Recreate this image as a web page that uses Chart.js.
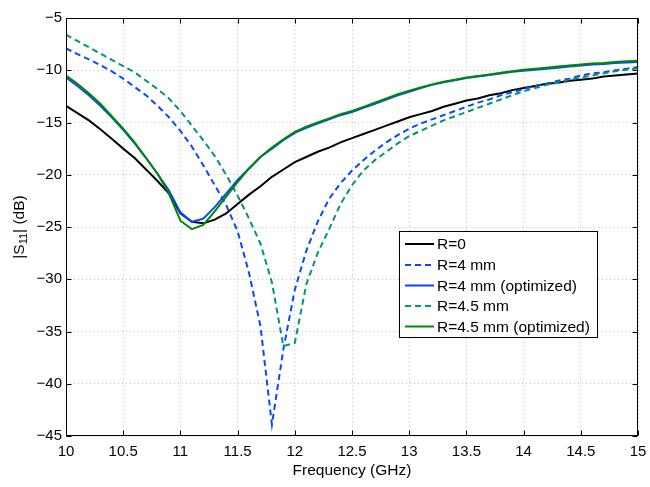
<!DOCTYPE html>
<html lang="en">
<head>
<meta charset="UTF-8">
<title>|S11| vs frequency</title>
<script src="https://cdn.jsdelivr.net/npm/chart.js"></script>
<style>
  body { margin: 0; background: #fff; }
  canvas { display: block; }
</style>
</head>
<body>
<canvas id="s11Chart" width="650" height="487"></canvas>
<script>
// frequency samples (GHz)
const freq = [10.0, 10.1, 10.2, 10.3, 10.4, 10.5, 10.6, 10.7, 10.8, 10.9,
              11.0, 11.1, 11.2, 11.3, 11.4, 11.5, 11.6, 11.7, 11.8, 11.9,
              12.0, 12.1, 12.2, 12.3, 12.4, 12.5, 12.6, 12.7, 12.8, 12.9,
              13.0, 13.1, 13.2, 13.3, 13.4, 13.5, 13.6, 13.7, 13.8, 13.9,
              14.0, 14.1, 14.2, 14.3, 14.4, 14.5, 14.6, 14.7, 14.8, 14.9, 15.0];

// |S11| in dB
const r0 = [-13.4, -14.1, -14.8, -15.65, -16.55, -17.5, -18.4, -19.5, -20.6, -21.8,
            -23.7, -24.5, -24.65, -24.3, -23.7, -22.8, -21.9, -21.1, -20.2, -19.5,
            -18.8, -18.3, -17.8, -17.4, -16.9, -16.5, -16.1, -15.7, -15.3, -14.9,
            -14.5, -14.2, -13.9, -13.5, -13.2, -12.9, -12.7, -12.4, -12.2, -11.9,
            -11.7, -11.5, -11.3, -11.2, -11.0, -10.9, -10.8, -10.6, -10.5, -10.4, -10.3];
const r4 = [-7.9, -8.45, -8.95, -9.5, -10.1, -10.8, -11.6, -12.4, -13.4, -14.5,
            -15.8, -17.3, -19.1, -21.0, -22.9, -25.4, -29.4, -34.5, -43.9, -36.7,
            -31.0, -27.3, -24.5, -22.3, -20.8, -19.6, -18.6, -17.7, -16.9, -16.2,
            -15.6, -15.1, -14.7, -14.3, -13.9, -13.5, -13.1, -12.8, -12.4, -12.1,
            -11.8, -11.5, -11.3, -11.0, -10.8, -10.5, -10.3, -10.2, -10.0, -9.85, -9.7];
const r4opt = [-10.7, -11.5, -12.4, -13.4, -14.5, -15.7, -17.0, -18.4, -19.9, -21.5,
               -23.6, -24.5, -24.2, -23.1, -21.8, -20.5, -19.4, -18.3, -17.5, -16.7,
               -16.0, -15.5, -15.1, -14.7, -14.3, -14.0, -13.6, -13.2, -12.8, -12.4,
               -12.05, -11.7, -11.4, -11.15, -10.95, -10.75, -10.6, -10.45, -10.3, -10.15,
               -10.05, -9.95, -9.85, -9.75, -9.65, -9.55, -9.45, -9.4, -9.3, -9.25, -9.2];
const r45 = [-6.6, -7.2, -7.8, -8.4, -9.0, -9.6, -10.2, -11.0, -11.8, -12.7,
             -13.9, -15.3, -16.7, -18.2, -20.0, -22.0, -24.2, -26.6, -30.3, -36.4,
             -36.1, -30.5, -27.5, -25.2, -22.8, -21.0, -19.6, -18.6, -17.8, -17.0,
             -16.3, -15.8, -15.3, -14.8, -14.4, -14.0, -13.6, -13.2, -12.8, -12.4,
             -12.0, -11.7, -11.4, -11.2, -10.9, -10.7, -10.5, -10.3, -10.1, -9.95, -9.8];
const r45opt = [-10.5, -11.3, -12.2, -13.2, -14.4, -15.6, -16.9, -18.4, -19.9, -21.8,
                -24.4, -25.2, -24.8, -23.5, -22.1, -20.7, -19.4, -18.3, -17.4, -16.6,
                -15.9, -15.4, -15.0, -14.6, -14.2, -13.9, -13.5, -13.1, -12.7, -12.3,
                -11.95, -11.65, -11.35, -11.1, -10.9, -10.7, -10.55, -10.4, -10.25, -10.1,
                -9.95, -9.85, -9.75, -9.65, -9.55, -9.45, -9.35, -9.3, -9.2, -9.15, -9.1];

const seriesNames = ['R=0', 'R=4 mm', 'R=4 mm (optimized)', 'R=4.5 mm', 'R=4.5 mm (optimized)'];
const seriesColors = ['#000000', '#0a47ff', '#0a47ff', '#009670', '#008a00'];
const seriesDashed = [false, true, false, true, false];
const seriesValues = [r0, r4, r4opt, r45, r45opt];

const FONT = '"Liberation Sans", Arial, Helvetica, sans-serif';

const datasets = seriesValues.map((vals, i) => ({
    label: seriesNames[i],
    data: vals.map((v, k) => ({ x: freq[k], y: v })),
    borderColor: seriesColors[i],
    borderWidth: 2,
    borderDash: seriesDashed[i] ? [6, 4] : [],
    pointRadius: 0,
    tension: 0,
    fill: false,
    order: seriesValues.length - i   // later series drawn on top, like matlab
}));

// axis box, inward ticks, axis titles and the legend
const decorations = {
    id: 'decorations',
    afterDraw(chart) {
        const { ctx, chartArea: a, scales } = chart;
        ctx.save();
        ctx.strokeStyle = '#000';
        ctx.lineWidth = 1;
        ctx.setLineDash([]);
        const L = Math.round(a.left) + 0.5, R = Math.round(a.right) - 0.5;
        const T = Math.round(a.top) + 0.5, B = Math.round(a.bottom) - 0.5;
        ctx.strokeRect(L, T, R - L, B - T);

        const tl = 5;
        ctx.beginPath();
        scales.x.ticks.forEach(t => {
            const px = Math.round(scales.x.getPixelForValue(t.value)) + 0.5;
            ctx.moveTo(px, B); ctx.lineTo(px, B - tl);
            ctx.moveTo(px, T); ctx.lineTo(px, T + tl);
        });
        scales.y.ticks.forEach(t => {
            const py = Math.round(scales.y.getPixelForValue(t.value)) + 0.5;
            ctx.moveTo(L, py); ctx.lineTo(L + tl, py);
            ctx.moveTo(R, py); ctx.lineTo(R - tl, py);
        });
        ctx.stroke();

        // x title
        ctx.fillStyle = '#000';
        ctx.font = '15.5px ' + FONT;
        ctx.textAlign = 'center';
        ctx.textBaseline = 'middle';
        ctx.fillText('Frequency (GHz)', (a.left + a.right) / 2, 471);

        // y title with subscript
        ctx.save();
        ctx.translate(20, (a.top + a.bottom) / 2);
        ctx.rotate(-Math.PI / 2);
        ctx.textAlign = 'left';
        ctx.textBaseline = 'middle';
        const p1 = '|S', p2 = '11', p3 = '| (dB)';
        ctx.font = '15.5px ' + FONT;
        const w1 = ctx.measureText(p1).width, w3 = ctx.measureText(p3).width;
        ctx.font = '11px ' + FONT;
        const w2 = ctx.measureText(p2).width;
        let x0 = -(w1 + w2 + w3) / 2;
        ctx.font = '15.5px ' + FONT;
        ctx.fillText(p1, x0, 0);
        ctx.font = '11px ' + FONT;
        ctx.fillText(p2, x0 + w1, 4);
        ctx.font = '15.5px ' + FONT;
        ctx.fillText(p3, x0 + w1 + w2, 0);
        ctx.restore();

        // legend
        const bx = 399.5, by = 231.5, bw = 198, bh = 106;
        ctx.fillStyle = '#fff';
        ctx.fillRect(bx, by, bw, bh);
        ctx.strokeStyle = '#000';
        ctx.lineWidth = 1;
        ctx.strokeRect(bx, by, bw, bh);
        const rows = [244, 265, 285.5, 306, 326.5];
        ctx.font = '15.5px ' + FONT;
        ctx.textAlign = 'left';
        ctx.textBaseline = 'middle';
        seriesNames.forEach((name, i) => {
            ctx.strokeStyle = seriesColors[i];
            ctx.lineWidth = 2;
            ctx.setLineDash(seriesDashed[i] ? [6, 4] : []);
            ctx.beginPath();
            ctx.moveTo(405, rows[i]);
            ctx.lineTo(434, rows[i]);
            ctx.stroke();
            ctx.fillStyle = '#000';
            ctx.fillText(name, 437, rows[i] + 1);
        });
        ctx.restore();
    }
};

const ctx = document.getElementById('s11Chart').getContext('2d');
new Chart(ctx, {
    type: 'line',
    data: { datasets: datasets },
    options: {
        responsive: false,
        animation: false,
        layout: { padding: { left: 0, right: 12, top: 18, bottom: 0 } },
        plugins: { legend: { display: false }, tooltip: { enabled: false } },
        scales: {
            x: {
                type: 'linear',
                min: 10, max: 15,
                afterFit: s => { s.height = 51; s.paddingLeft = 0; s.paddingRight = 0; },
                ticks: {
                    stepSize: 0.5,
                    padding: 7,
                    color: '#000',
                    font: { family: FONT, size: 15 },
                    maxRotation: 0,
                    callback: v => String(v)
                },
                grid: { color: '#c4c4c4', lineWidth: 1, drawTicks: false },
                border: { display: false, dash: [1, 3] }
            },
            y: {
                min: -45, max: -5,
                afterFit: s => { s.width = 66; s.paddingTop = 0; s.paddingBottom = 0; },
                ticks: {
                    stepSize: 5,
                    padding: 4,
                    color: '#000',
                    font: { family: FONT, size: 15 },
                    callback: v => String(v).replace('-', '\u2212')
                },
                grid: { color: '#c4c4c4', lineWidth: 1, drawTicks: false },
                border: { display: false, dash: [1, 3] }
            }
        }
    },
    plugins: [decorations]
});
</script>
</body>
</html>
